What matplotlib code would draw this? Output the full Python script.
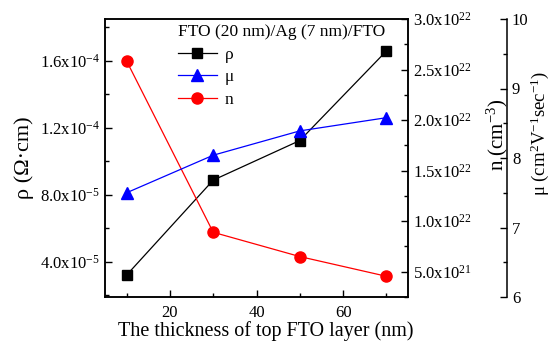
import matplotlib
matplotlib.use("Agg")
import matplotlib.pyplot as plt
from matplotlib.ticker import FixedLocator, MultipleLocator

plt.rcParams['font.family'] = ['Liberation Serif', 'DejaVu Serif']
plt.rcParams['mathtext.fontset'] = 'custom'
plt.rcParams['mathtext.rm'] = 'Liberation Serif'
plt.rcParams['mathtext.it'] = 'Liberation Serif:italic'
plt.rcParams['mathtext.bf'] = 'Liberation Serif:bold'

thickness = [10, 30, 50, 70]
rho = [3.22e-5, 8.88e-5, 1.124e-4, 1.658e-4]
mu = [7.50, 8.04, 8.39, 8.58]
n = [2.584e22, 8.9e21, 6.5e21, 4.55e21]

rho_ticks = [4.0e-5, 8.0e-5, 1.2e-4, 1.6e-4]
rho_labels = [r'$4.0\mathrm{x}10^{-5}$', r'$8.0\mathrm{x}10^{-5}$', r'$1.2\mathrm{x}10^{-4}$', r'$1.6\mathrm{x}10^{-4}$']
n_ticks = [5.0e21, 1.0e22, 1.5e22, 2.0e22, 2.5e22, 3.0e22]
n_labels = [r'$5.0\mathrm{x}10^{21}$', r'$1.0\mathrm{x}10^{22}$', r'$1.5\mathrm{x}10^{22}$',
            r'$2.0\mathrm{x}10^{22}$', r'$2.5\mathrm{x}10^{22}$', r'$3.0\mathrm{x}10^{22}$']
mu_ticks = [6, 7, 8, 9, 10]
x_ticks = [20, 40, 60]

fig = plt.figure(figsize=(5.53, 3.5), dpi=100)
ax = fig.add_axes([105/553, 53/350, 303/553, 278/350])
ax_n = ax.twinx()
ax_mu = ax.twinx()
ax_mu.spines['right'].set_position(('axes', 1.327))
for s in ['top', 'left', 'bottom']:
    ax_mu.spines[s].set_visible(False)

lw = 0.9
l1, = ax.plot(thickness, rho, color='black', marker='s', ms=7, lw=lw, label='ρ')
l2, = ax_mu.plot(thickness, mu, color='#0000ff', marker='^', ms=8, lw=lw, label='μ')
l3, = ax_n.plot(thickness, n, color='#ff0000', marker='o', ms=8, lw=lw, label='n')

ax.set_xlim(5, 75)
ax.set_ylim(1.91e-5, 1.849e-4)
ax_n.set_ylim(2.5e21, 3.0e22)
ax_mu.set_ylim(6, 10)

ax.xaxis.set_major_locator(FixedLocator(x_ticks))
ax.xaxis.set_minor_locator(MultipleLocator(10))
ax.set_yticks(rho_ticks)
ax.set_yticklabels(rho_labels)
ax.yaxis.set_minor_locator(MultipleLocator(2e-5))
ax_n.set_yticks(n_ticks)
ax_n.set_yticklabels(n_labels)
ax_n.yaxis.set_minor_locator(MultipleLocator(2.5e21))
ax_mu.set_yticks(mu_ticks)
ax_mu.yaxis.set_minor_locator(MultipleLocator(0.5))

for a in [ax, ax_n, ax_mu]:
    a.tick_params(which='major', direction='in', length=5, width=1, labelsize=12)
    a.tick_params(which='minor', direction='in', length=3, width=1)
    for s in a.spines.values():
        s.set_linewidth(1.1)
ax.tick_params(axis='both', which='both', top=False, right=False)
ax.tick_params(axis='x', pad=6)

ax.set_xlabel('The thickness of top FTO layer (nm)', fontsize=14.5)
ax.xaxis.set_label_coords(0.53, -0.085)
ax.set_ylabel('ρ (Ω·cm)', fontsize=16, labelpad=4)
ax_n.set_ylabel(r'n (cm$^{-3}$)', fontsize=15)
ax_n.yaxis.set_label_coords(1.255, 0.585)
ax_mu.set_ylabel(r'μ (cm$^{2}$V$^{-1}$sec$^{-1}$)', fontsize=13.5)
ax_mu.yaxis.set_label_coords(1.398, 0.59)

leg = ax_mu.legend(handles=[l1, l2, l3], title='FTO (20 nm)/Ag (7 nm)/FTO',
                   loc='upper left', bbox_to_anchor=(0.205, 1.02), frameon=False,
                   fontsize=12.5, title_fontsize=12.5, handlelength=2.3,
                   labelspacing=0.38, handletextpad=0.4, borderaxespad=0.2)
leg._legend_box.align = 'left'

fig.savefig('out.png', dpi=100)
